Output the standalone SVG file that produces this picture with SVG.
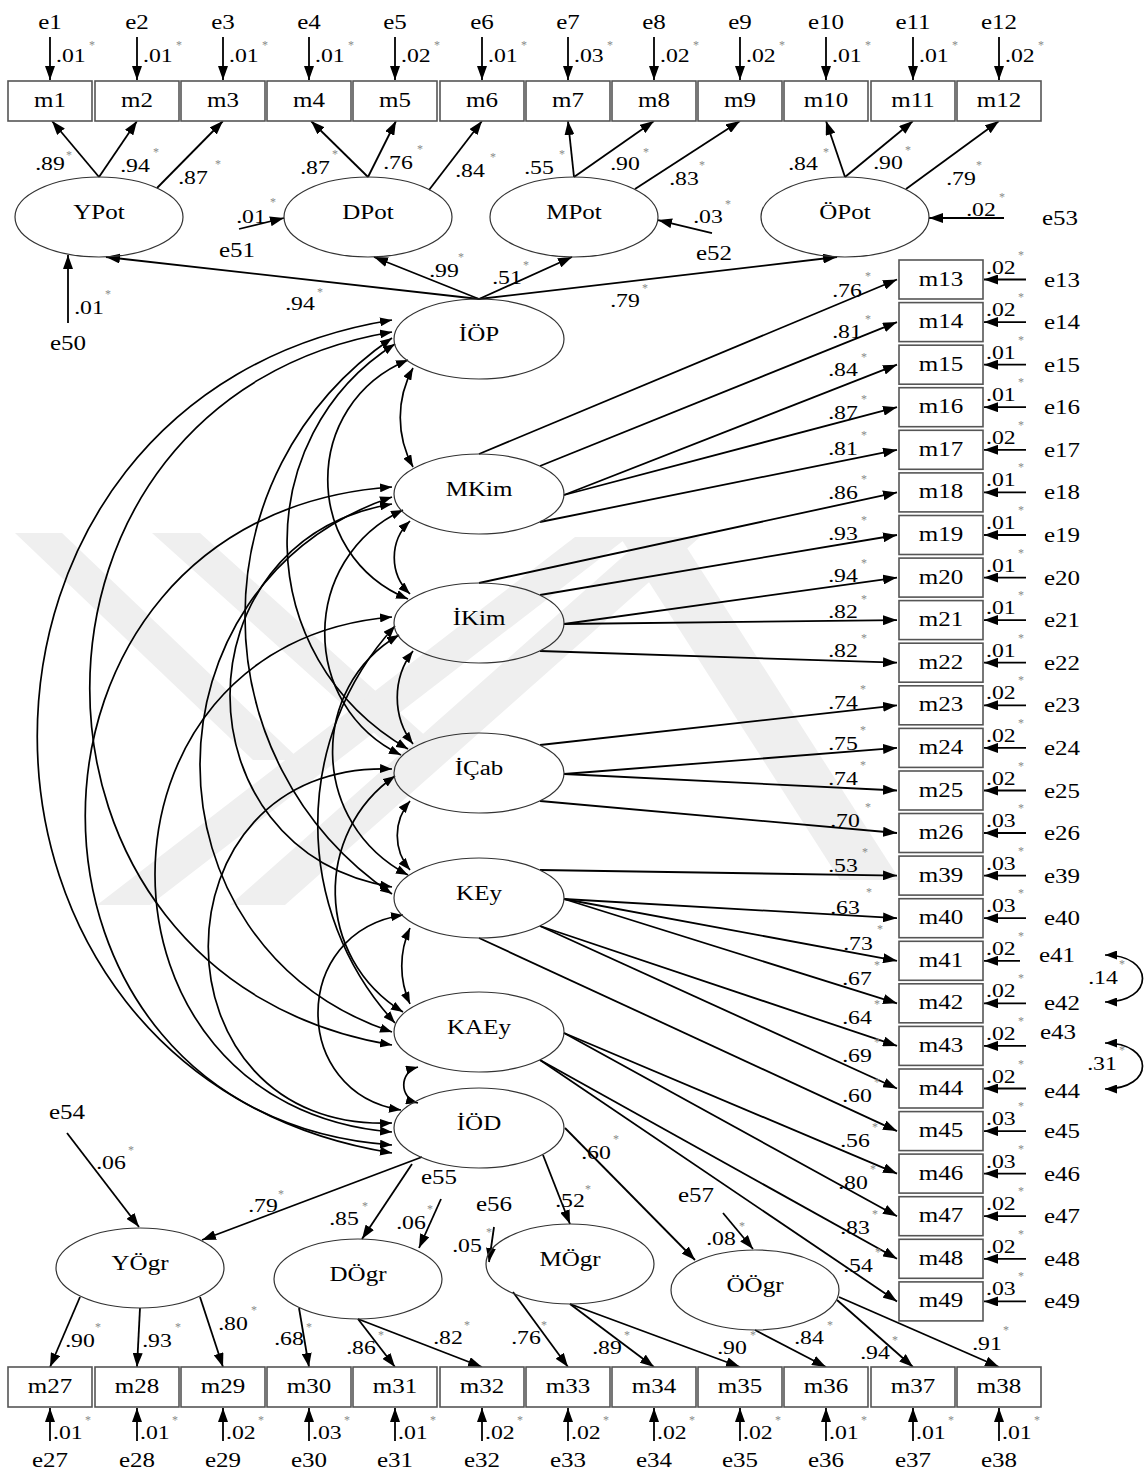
<svg xmlns="http://www.w3.org/2000/svg" width="1147" height="1472" viewBox="0 0 1147 1472">
<defs>
<marker id="ah" markerUnits="userSpaceOnUse" markerWidth="14" markerHeight="10" refX="14" refY="5" orient="auto"><path d="M0,0L14,5L0,10z" fill="#000"/></marker>
<marker id="ch" markerUnits="userSpaceOnUse" markerWidth="12" markerHeight="9" refX="12" refY="4.5" orient="auto-start-reverse"><path d="M0,0L12,4.5L0,9z" fill="#000"/></marker>
</defs>
<style>
text{font-family:"Liberation Serif","Times New Roman",serif;fill:#000}
.n{font-size:20px;text-anchor:middle}
.v{font-size:19px}
.vm{font-size:19px;text-anchor:middle}
.s{font-size:12px;fill:#8a8a8a;text-anchor:middle}
.bx{fill:#fff;stroke:#555;stroke-width:1.6}
.el{fill:none;stroke:#333;stroke-width:1.2}
.ln path{fill:none;stroke:#000;stroke-width:1.8;marker-end:url(#ah)}
.cv path{fill:none;stroke:#000;stroke-width:1.7;marker-start:url(#ch);marker-end:url(#ch)}
.wm{fill:#efefef}
</style>
<rect width="1147" height="1472" fill="#fff"/>
<g id="watermark">
<polygon class="wm" points="15,533 62,533 300,760 253,760"/>
<polygon class="wm" points="152,533 200,533 430,740 382,740"/>
<polygon class="wm" points="97,905 150,905 628,537 575,537"/>
<polygon class="wm" points="230,905 285,905 700,537 645,537"/>
<polygon class="wm" points="620,537 680,537 900,880 840,880"/>
</g>
<g id="connectors">
<g class="ln">
<path d="M50,37V80"/><path d="M137,37V80"/><path d="M223,37V80"/><path d="M309,37V80"/><path d="M395,37V80"/><path d="M482,37V80"/><path d="M568,37V80"/><path d="M654,37V80"/><path d="M740,37V80"/><path d="M826,37V80"/><path d="M913,37V80"/><path d="M999,37V80"/>
<path d="M99,177L52,121"/><path d="M99,177L137,121"/><path d="M157,188L223,121"/>
<path d="M368,177L311,121"/><path d="M368,177L396,121"/><path d="M429,190L482,121"/>
<path d="M574,177L568,121"/><path d="M574,177L654,121"/><path d="M635,189L740,121"/>
<path d="M845,177L826,121"/><path d="M845,177L913,121"/><path d="M906,189L999,121"/>
<path d="M479,299L106,257"/><path d="M479,299L374,257"/><path d="M479,299L572,257"/><path d="M479,299L837,257"/>
<path d="M68,323L68,255"/><path d="M239,229L284,218"/><path d="M712,233L658,220"/><path d="M1004,218L929,218"/>
<path d="M479,454L897,279.5"/><path d="M540,466L897,322.1"/><path d="M564,495L897,364.7"/><path d="M564,495L897,407.2"/><path d="M540,522L897,449.8"/>
<path d="M479,583L897,492.4"/><path d="M540,595L897,535"/><path d="M564,624L897,577.6"/><path d="M564,624L897,620.1"/><path d="M540,651L897,662.7"/>
<path d="M540,745L897,705.3"/><path d="M564,774L897,747.9"/><path d="M564,774L897,790.5"/><path d="M540,801L897,833"/>
<path d="M540,870L897,875.6"/><path d="M564,899L897,918.2"/><path d="M564,899L897,960.8"/><path d="M564,899L897,1003.3"/><path d="M540,926L897,1045.9"/><path d="M540,926L897,1088.5"/><path d="M479,938L897,1131.1"/>
<path d="M564,1033L897,1173.6"/><path d="M564,1033L897,1216.2"/><path d="M540,1060L897,1258.8"/><path d="M540,1060L897,1301.4"/>
<path d="M1026,279.5H984"/><path d="M1026,322.1H984"/><path d="M1026,364.7H984"/><path d="M1026,407.2H984"/><path d="M1026,449.8H984"/><path d="M1026,492.4H984"/><path d="M1026,535H984"/><path d="M1026,577.6H984"/><path d="M1026,620.1H984"/><path d="M1026,662.7H984"/><path d="M1026,705.3H984"/><path d="M1026,747.9H984"/><path d="M1026,790.5H984"/><path d="M1026,833H984"/><path d="M1026,875.6H984"/><path d="M1026,918.2H984"/><path d="M1020,960.8H984"/><path d="M1026,1003.3H984"/><path d="M1026,1045.9H984"/><path d="M1026,1088.5H984"/><path d="M1026,1131.1H984"/><path d="M1026,1173.6H984"/><path d="M1026,1216.2H984"/><path d="M1026,1258.8H984"/><path d="M1026,1301.4H984"/>
<path d="M67,1133L139,1227"/><path d="M422,1157L202,1240"/><path d="M412,1164L362,1239"/><path d="M441,1199L419,1248"/><path d="M494,1227L489,1262"/><path d="M543,1155L570,1224"/><path d="M565,1128L695,1260"/><path d="M723,1213L753,1249"/>
<path d="M80,1297L50,1367"/><path d="M140,1308L137,1367"/><path d="M200,1297L223,1367"/>
<path d="M299,1308L309,1367"/><path d="M358,1319L395,1367"/><path d="M358,1319L482,1367"/>
<path d="M513,1292L568,1367"/><path d="M570,1304L654,1367"/><path d="M570,1304L740,1367"/>
<path d="M755,1330L826,1367"/><path d="M837,1300L913,1367"/><path d="M839,1297L999,1367"/>
<path d="M50,1441V1408"/><path d="M137,1441V1408"/><path d="M223,1441V1408"/><path d="M309,1441V1408"/><path d="M395,1441V1408"/><path d="M482,1441V1408"/><path d="M568,1441V1408"/><path d="M654,1441V1408"/><path d="M740,1441V1408"/><path d="M826,1441V1408"/><path d="M913,1441V1408"/><path d="M999,1441V1408"/>
</g>
<g class="cv">
<path d="M392,320C-81,396 -81,1077 392,1153"/>
<path d="M392,332C-11,399 -11,978 392,1045"/>
<path d="M392,487C-17,515 -17,1117 392,1145"/>
<path d="M392,617C76,643 76,1106 392,1132"/>
<path d="M392,497C136,584 136,946 392,1032"/>
<path d="M392,338C196,472 196,761 392,894"/>
<path d="M392,769C147,760 147,1133 392,1123"/>
<path d="M395,344C249,436 249,657 408,749"/>
<path d="M392,504C176,540 176,851 392,887"/>
<path d="M395,626C292,738 292,911 395,1023"/>
<path d="M399,635C309,687 309,823 408,875"/>
<path d="M408,360C301,404 301,555 408,599"/>
<path d="M403,510C299,559 299,706 401,755"/>
<path d="M395,776C314,832 314,957 403,1012"/>
<path d="M403,915C290,932 290,1093 401,1110"/>
<path d="M413,368C396,399 396,436 413,467"/>
<path d="M410,521C389,541 389,574 410,594"/>
<path d="M413,651C392,678 392,717 413,744"/>
<path d="M410,801C393,821 393,850 410,870"/>
<path d="M410,928C399,952 399,980 410,1004"/>
<path d="M418,1067C399,1072 399,1098 418,1103"/>
<path d="M1105,955C1155,955 1155,1002 1105,1002"/>
<path d="M1105,1043C1155,1043 1155,1089 1105,1089"/>
</g>
</g>
<g id="YPot"><ellipse class="el" cx="99" cy="217" rx="84" ry="40"/><text class="n" transform="translate(99 219) scale(1.25 1)">YPot</text></g>
<g id="DPot"><ellipse class="el" cx="368" cy="217" rx="84" ry="40"/><text class="n" transform="translate(368 219) scale(1.25 1)">DPot</text></g>
<g id="MPot"><ellipse class="el" cx="574" cy="217" rx="84" ry="40"/><text class="n" transform="translate(574 219) scale(1.25 1)">MPot</text></g>
<g id="OPot"><ellipse class="el" cx="845" cy="217" rx="84" ry="40"/><text class="n" transform="translate(845 219) scale(1.25 1)">ÖPot</text></g>
<g id="IOP"><ellipse class="el" cx="479" cy="339" rx="85" ry="40"/><text class="n" transform="translate(479 341) scale(1.25 1)">İÖP</text></g>
<g id="MKim"><ellipse class="el" cx="479" cy="494" rx="85" ry="40"/><text class="n" transform="translate(479 496) scale(1.25 1)">MKim</text></g>
<g id="IKim"><ellipse class="el" cx="479" cy="623" rx="85" ry="40"/><text class="n" transform="translate(479 625) scale(1.25 1)">İKim</text></g>
<g id="ICab"><ellipse class="el" cx="479" cy="773" rx="85" ry="40"/><text class="n" transform="translate(479 775) scale(1.25 1)">İÇab</text></g>
<g id="KEy"><ellipse class="el" cx="479" cy="898" rx="85" ry="40"/><text class="n" transform="translate(479 900) scale(1.25 1)">KEy</text></g>
<g id="KAEy"><ellipse class="el" cx="479" cy="1032" rx="85" ry="40"/><text class="n" transform="translate(479 1034) scale(1.25 1)">KAEy</text></g>
<g id="IOD"><ellipse class="el" cx="479" cy="1128" rx="85" ry="40"/><text class="n" transform="translate(479 1130) scale(1.25 1)">İÖD</text></g>
<g id="YOgr"><ellipse class="el" cx="140" cy="1268" rx="84" ry="40"/><text class="n" transform="translate(140 1270) scale(1.25 1)">YÖgr</text></g>
<g id="DOgr"><ellipse class="el" cx="358" cy="1279" rx="84" ry="40"/><text class="n" transform="translate(358 1281) scale(1.25 1)">DÖgr</text></g>
<g id="MOgr"><ellipse class="el" cx="570" cy="1264" rx="84" ry="40"/><text class="n" transform="translate(570 1266) scale(1.25 1)">MÖgr</text></g>
<g id="OOgr"><ellipse class="el" cx="755" cy="1290" rx="84" ry="40"/><text class="n" transform="translate(755 1292) scale(1.25 1)">ÖÖgr</text></g>
<g id="m1"><rect class="bx" x="8" y="81" width="84" height="40"/><text class="n" transform="translate(50 107) scale(1.25 1)">m1</text></g>
<g id="m2"><rect class="bx" x="95" y="81" width="84" height="40"/><text class="n" transform="translate(137 107) scale(1.25 1)">m2</text></g>
<g id="m3"><rect class="bx" x="181" y="81" width="84" height="40"/><text class="n" transform="translate(223 107) scale(1.25 1)">m3</text></g>
<g id="m4"><rect class="bx" x="267" y="81" width="84" height="40"/><text class="n" transform="translate(309 107) scale(1.25 1)">m4</text></g>
<g id="m5"><rect class="bx" x="353" y="81" width="84" height="40"/><text class="n" transform="translate(395 107) scale(1.25 1)">m5</text></g>
<g id="m6"><rect class="bx" x="440" y="81" width="84" height="40"/><text class="n" transform="translate(482 107) scale(1.25 1)">m6</text></g>
<g id="m7"><rect class="bx" x="526" y="81" width="84" height="40"/><text class="n" transform="translate(568 107) scale(1.25 1)">m7</text></g>
<g id="m8"><rect class="bx" x="612" y="81" width="84" height="40"/><text class="n" transform="translate(654 107) scale(1.25 1)">m8</text></g>
<g id="m9"><rect class="bx" x="698" y="81" width="84" height="40"/><text class="n" transform="translate(740 107) scale(1.25 1)">m9</text></g>
<g id="m10"><rect class="bx" x="784" y="81" width="84" height="40"/><text class="n" transform="translate(826 107) scale(1.25 1)">m10</text></g>
<g id="m11"><rect class="bx" x="871" y="81" width="84" height="40"/><text class="n" transform="translate(913 107) scale(1.25 1)">m11</text></g>
<g id="m12"><rect class="bx" x="957" y="81" width="84" height="40"/><text class="n" transform="translate(999 107) scale(1.25 1)">m12</text></g>
<g id="m27"><rect class="bx" x="8" y="1367" width="84" height="40"/><text class="n" transform="translate(50 1393) scale(1.25 1)">m27</text></g>
<g id="m28"><rect class="bx" x="95" y="1367" width="84" height="40"/><text class="n" transform="translate(137 1393) scale(1.25 1)">m28</text></g>
<g id="m29"><rect class="bx" x="181" y="1367" width="84" height="40"/><text class="n" transform="translate(223 1393) scale(1.25 1)">m29</text></g>
<g id="m30"><rect class="bx" x="267" y="1367" width="84" height="40"/><text class="n" transform="translate(309 1393) scale(1.25 1)">m30</text></g>
<g id="m31"><rect class="bx" x="353" y="1367" width="84" height="40"/><text class="n" transform="translate(395 1393) scale(1.25 1)">m31</text></g>
<g id="m32"><rect class="bx" x="440" y="1367" width="84" height="40"/><text class="n" transform="translate(482 1393) scale(1.25 1)">m32</text></g>
<g id="m33"><rect class="bx" x="526" y="1367" width="84" height="40"/><text class="n" transform="translate(568 1393) scale(1.25 1)">m33</text></g>
<g id="m34"><rect class="bx" x="612" y="1367" width="84" height="40"/><text class="n" transform="translate(654 1393) scale(1.25 1)">m34</text></g>
<g id="m35"><rect class="bx" x="698" y="1367" width="84" height="40"/><text class="n" transform="translate(740 1393) scale(1.25 1)">m35</text></g>
<g id="m36"><rect class="bx" x="784" y="1367" width="84" height="40"/><text class="n" transform="translate(826 1393) scale(1.25 1)">m36</text></g>
<g id="m37"><rect class="bx" x="871" y="1367" width="84" height="40"/><text class="n" transform="translate(913 1393) scale(1.25 1)">m37</text></g>
<g id="m38"><rect class="bx" x="957" y="1367" width="84" height="40"/><text class="n" transform="translate(999 1393) scale(1.25 1)">m38</text></g>
<g id="m13"><rect class="bx" x="899" y="260" width="84" height="39"/><text class="n" transform="translate(941 285.5) scale(1.25 1)">m13</text></g>
<g id="m14"><rect class="bx" x="899" y="302.6" width="84" height="39"/><text class="n" transform="translate(941 328) scale(1.25 1)">m14</text></g>
<g id="m15"><rect class="bx" x="899" y="345.2" width="84" height="39"/><text class="n" transform="translate(941 370.7) scale(1.25 1)">m15</text></g>
<g id="m16"><rect class="bx" x="899" y="387.7" width="84" height="39"/><text class="n" transform="translate(941 413) scale(1.25 1)">m16</text></g>
<g id="m17"><rect class="bx" x="899" y="430.3" width="84" height="39"/><text class="n" transform="translate(941 455.8) scale(1.25 1)">m17</text></g>
<g id="m18"><rect class="bx" x="899" y="472.9" width="84" height="39"/><text class="n" transform="translate(941 498.4) scale(1.25 1)">m18</text></g>
<g id="m19"><rect class="bx" x="899" y="515.5" width="84" height="39"/><text class="n" transform="translate(941 541) scale(1.25 1)">m19</text></g>
<g id="m20"><rect class="bx" x="899" y="558.1" width="84" height="39"/><text class="n" transform="translate(941 583.6) scale(1.25 1)">m20</text></g>
<g id="m21"><rect class="bx" x="899" y="600.6" width="84" height="39"/><text class="n" transform="translate(941 626) scale(1.25 1)">m21</text></g>
<g id="m22"><rect class="bx" x="899" y="643.2" width="84" height="39"/><text class="n" transform="translate(941 668.7) scale(1.25 1)">m22</text></g>
<g id="m23"><rect class="bx" x="899" y="685.8" width="84" height="39"/><text class="n" transform="translate(941 711.3) scale(1.25 1)">m23</text></g>
<g id="m24"><rect class="bx" x="899" y="728.4" width="84" height="39"/><text class="n" transform="translate(941 753.9) scale(1.25 1)">m24</text></g>
<g id="m25"><rect class="bx" x="899" y="771" width="84" height="39"/><text class="n" transform="translate(941 796.5) scale(1.25 1)">m25</text></g>
<g id="m26"><rect class="bx" x="899" y="813.5" width="84" height="39"/><text class="n" transform="translate(941 839) scale(1.25 1)">m26</text></g>
<g id="m39"><rect class="bx" x="899" y="856.1" width="84" height="39"/><text class="n" transform="translate(941 881.6) scale(1.25 1)">m39</text></g>
<g id="m40"><rect class="bx" x="899" y="898.7" width="84" height="39"/><text class="n" transform="translate(941 924.2) scale(1.25 1)">m40</text></g>
<g id="m41"><rect class="bx" x="899" y="941.3" width="84" height="39"/><text class="n" transform="translate(941 966.8) scale(1.25 1)">m41</text></g>
<g id="m42"><rect class="bx" x="899" y="983.8" width="84" height="39"/><text class="n" transform="translate(941 1009.3) scale(1.25 1)">m42</text></g>
<g id="m43"><rect class="bx" x="899" y="1026.4" width="84" height="39"/><text class="n" transform="translate(941 1051.9) scale(1.25 1)">m43</text></g>
<g id="m44"><rect class="bx" x="899" y="1069" width="84" height="39"/><text class="n" transform="translate(941 1094.5) scale(1.25 1)">m44</text></g>
<g id="m45"><rect class="bx" x="899" y="1111.6" width="84" height="39"/><text class="n" transform="translate(941 1137.1) scale(1.25 1)">m45</text></g>
<g id="m46"><rect class="bx" x="899" y="1154.1" width="84" height="39"/><text class="n" transform="translate(941 1179.6) scale(1.25 1)">m46</text></g>
<g id="m47"><rect class="bx" x="899" y="1196.7" width="84" height="39"/><text class="n" transform="translate(941 1222.2) scale(1.25 1)">m47</text></g>
<g id="m48"><rect class="bx" x="899" y="1239.3" width="84" height="39"/><text class="n" transform="translate(941 1264.8) scale(1.25 1)">m48</text></g>
<g id="m49"><rect class="bx" x="899" y="1281.9" width="84" height="39"/><text class="n" transform="translate(941 1307.4) scale(1.25 1)">m49</text></g>
<g id="errors">
<text class="n" transform="translate(50 29) scale(1.25 1)">e1</text><text class="n" transform="translate(137 29) scale(1.25 1)">e2</text><text class="n" transform="translate(223 29) scale(1.25 1)">e3</text><text class="n" transform="translate(309 29) scale(1.25 1)">e4</text><text class="n" transform="translate(395 29) scale(1.25 1)">e5</text><text class="n" transform="translate(482 29) scale(1.25 1)">e6</text><text class="n" transform="translate(568 29) scale(1.25 1)">e7</text><text class="n" transform="translate(654 29) scale(1.25 1)">e8</text><text class="n" transform="translate(740 29) scale(1.25 1)">e9</text><text class="n" transform="translate(826 29) scale(1.25 1)">e10</text><text class="n" transform="translate(913 29) scale(1.25 1)">e11</text><text class="n" transform="translate(999 29) scale(1.25 1)">e12</text>
<text class="n" transform="translate(50 1467) scale(1.25 1)">e27</text><text class="n" transform="translate(137 1467) scale(1.25 1)">e28</text><text class="n" transform="translate(223 1467) scale(1.25 1)">e29</text><text class="n" transform="translate(309 1467) scale(1.25 1)">e30</text><text class="n" transform="translate(395 1467) scale(1.25 1)">e31</text><text class="n" transform="translate(482 1467) scale(1.25 1)">e32</text><text class="n" transform="translate(568 1467) scale(1.25 1)">e33</text><text class="n" transform="translate(654 1467) scale(1.25 1)">e34</text><text class="n" transform="translate(740 1467) scale(1.25 1)">e35</text><text class="n" transform="translate(826 1467) scale(1.25 1)">e36</text><text class="n" transform="translate(913 1467) scale(1.25 1)">e37</text><text class="n" transform="translate(999 1467) scale(1.25 1)">e38</text>
<text class="n" transform="translate(1062 286.5) scale(1.25 1)">e13</text><text class="n" transform="translate(1062 329) scale(1.25 1)">e14</text><text class="n" transform="translate(1062 371.7) scale(1.25 1)">e15</text><text class="n" transform="translate(1062 414) scale(1.25 1)">e16</text><text class="n" transform="translate(1062 456.8) scale(1.25 1)">e17</text><text class="n" transform="translate(1062 499.4) scale(1.25 1)">e18</text><text class="n" transform="translate(1062 542) scale(1.25 1)">e19</text><text class="n" transform="translate(1062 584.6) scale(1.25 1)">e20</text><text class="n" transform="translate(1062 627) scale(1.25 1)">e21</text><text class="n" transform="translate(1062 669.7) scale(1.25 1)">e22</text><text class="n" transform="translate(1062 712.3) scale(1.25 1)">e23</text><text class="n" transform="translate(1062 754.9) scale(1.25 1)">e24</text><text class="n" transform="translate(1062 797.5) scale(1.25 1)">e25</text><text class="n" transform="translate(1062 840) scale(1.25 1)">e26</text><text class="n" transform="translate(1062 882.6) scale(1.25 1)">e39</text><text class="n" transform="translate(1062 925.2) scale(1.25 1)">e40</text><text class="n" transform="translate(1057 962) scale(1.25 1)">e41</text><text class="n" transform="translate(1062 1010.3) scale(1.25 1)">e42</text><text class="n" transform="translate(1058 1039) scale(1.25 1)">e43</text><text class="n" transform="translate(1062 1098) scale(1.25 1)">e44</text><text class="n" transform="translate(1062 1138.1) scale(1.25 1)">e45</text><text class="n" transform="translate(1062 1180.6) scale(1.25 1)">e46</text><text class="n" transform="translate(1062 1223.2) scale(1.25 1)">e47</text><text class="n" transform="translate(1062 1265.8) scale(1.25 1)">e48</text><text class="n" transform="translate(1062 1308.4) scale(1.25 1)">e49</text>
<text class="n" transform="translate(68 350) scale(1.25 1)">e50</text><text class="n" transform="translate(237 257) scale(1.25 1)">e51</text><text class="n" transform="translate(714 260) scale(1.25 1)">e52</text><text class="n" transform="translate(1060 225) scale(1.25 1)">e53</text>
<text class="n" transform="translate(67 1119) scale(1.25 1)">e54</text><text class="n" transform="translate(439 1184) scale(1.25 1)">e55</text><text class="n" transform="translate(494 1211) scale(1.25 1)">e56</text><text class="n" transform="translate(696 1202) scale(1.25 1)">e57</text>
</g>
<g id="labels">
<text class="v" transform="translate(56 62) scale(1.25 1)">.01</text><text class="v" transform="translate(143 62) scale(1.25 1)">.01</text><text class="v" transform="translate(229 62) scale(1.25 1)">.01</text><text class="v" transform="translate(315 62) scale(1.25 1)">.01</text><text class="v" transform="translate(401 62) scale(1.25 1)">.02</text><text class="v" transform="translate(488 62) scale(1.25 1)">.01</text><text class="v" transform="translate(574 62) scale(1.25 1)">.03</text><text class="v" transform="translate(660 62) scale(1.25 1)">.02</text><text class="v" transform="translate(746 62) scale(1.25 1)">.02</text><text class="v" transform="translate(832 62) scale(1.25 1)">.01</text><text class="v" transform="translate(919 62) scale(1.25 1)">.01</text><text class="v" transform="translate(1005 62) scale(1.25 1)">.02</text>
<text class="s" x="92" y="49">*</text><text class="s" x="179" y="49">*</text><text class="s" x="265" y="49">*</text><text class="s" x="351" y="49">*</text><text class="s" x="437" y="49">*</text><text class="s" x="524" y="49">*</text><text class="s" x="610" y="49">*</text><text class="s" x="696" y="49">*</text><text class="s" x="782" y="49">*</text><text class="s" x="868" y="49">*</text><text class="s" x="955" y="49">*</text><text class="s" x="1041" y="49">*</text>
<text class="v" transform="translate(53 1439) scale(1.25 1)">.01</text><text class="v" transform="translate(140 1439) scale(1.25 1)">.01</text><text class="v" transform="translate(226 1439) scale(1.25 1)">.02</text><text class="v" transform="translate(312 1439) scale(1.25 1)">.03</text><text class="v" transform="translate(398 1439) scale(1.25 1)">.01</text><text class="v" transform="translate(485 1439) scale(1.25 1)">.02</text><text class="v" transform="translate(571 1439) scale(1.25 1)">.02</text><text class="v" transform="translate(657 1439) scale(1.25 1)">.02</text><text class="v" transform="translate(743 1439) scale(1.25 1)">.02</text><text class="v" transform="translate(829 1439) scale(1.25 1)">.01</text><text class="v" transform="translate(916 1439) scale(1.25 1)">.01</text><text class="v" transform="translate(1002 1439) scale(1.25 1)">.01</text>
<text class="s" x="88" y="1424">*</text><text class="s" x="175" y="1424">*</text><text class="s" x="261" y="1424">*</text><text class="s" x="347" y="1424">*</text><text class="s" x="433" y="1424">*</text><text class="s" x="520" y="1424">*</text><text class="s" x="606" y="1424">*</text><text class="s" x="692" y="1424">*</text><text class="s" x="778" y="1424">*</text><text class="s" x="864" y="1424">*</text><text class="s" x="951" y="1424">*</text><text class="s" x="1037" y="1424">*</text>
<text class="v" transform="translate(986 273.5) scale(1.25 1)">.02</text><text class="v" transform="translate(986 316) scale(1.25 1)">.02</text><text class="v" transform="translate(986 358.7) scale(1.25 1)">.01</text><text class="v" transform="translate(986 401) scale(1.25 1)">.01</text><text class="v" transform="translate(986 443.8) scale(1.25 1)">.02</text><text class="v" transform="translate(986 486.4) scale(1.25 1)">.01</text><text class="v" transform="translate(986 529) scale(1.25 1)">.01</text><text class="v" transform="translate(986 571.6) scale(1.25 1)">.01</text><text class="v" transform="translate(986 614) scale(1.25 1)">.01</text><text class="v" transform="translate(986 656.7) scale(1.25 1)">.01</text><text class="v" transform="translate(986 699.3) scale(1.25 1)">.02</text><text class="v" transform="translate(986 741.9) scale(1.25 1)">.02</text><text class="v" transform="translate(986 784.5) scale(1.25 1)">.02</text><text class="v" transform="translate(986 827) scale(1.25 1)">.03</text><text class="v" transform="translate(986 869.6) scale(1.25 1)">.03</text><text class="v" transform="translate(986 912.2) scale(1.25 1)">.03</text><text class="v" transform="translate(986 954.8) scale(1.25 1)">.02</text><text class="v" transform="translate(986 997.3) scale(1.25 1)">.02</text><text class="v" transform="translate(986 1039.9) scale(1.25 1)">.02</text><text class="v" transform="translate(986 1082.5) scale(1.25 1)">.02</text><text class="v" transform="translate(986 1125.1) scale(1.25 1)">.03</text><text class="v" transform="translate(986 1167.6) scale(1.25 1)">.03</text><text class="v" transform="translate(986 1210.2) scale(1.25 1)">.02</text><text class="v" transform="translate(986 1252.8) scale(1.25 1)">.02</text><text class="v" transform="translate(986 1295.4) scale(1.25 1)">.03</text>
<text class="s" x="1021" y="258.5">*</text><text class="s" x="1021" y="301">*</text><text class="s" x="1021" y="343.7">*</text><text class="s" x="1021" y="386">*</text><text class="s" x="1021" y="428.8">*</text><text class="s" x="1021" y="471.4">*</text><text class="s" x="1021" y="514">*</text><text class="s" x="1021" y="556.6">*</text><text class="s" x="1021" y="599">*</text><text class="s" x="1021" y="641.7">*</text><text class="s" x="1021" y="684.3">*</text><text class="s" x="1021" y="726.9">*</text><text class="s" x="1021" y="769.5">*</text><text class="s" x="1021" y="812">*</text><text class="s" x="1021" y="854.6">*</text><text class="s" x="1021" y="897.2">*</text><text class="s" x="1021" y="939.8">*</text><text class="s" x="1021" y="982.3">*</text><text class="s" x="1021" y="1024.9">*</text><text class="s" x="1021" y="1067.5">*</text><text class="s" x="1021" y="1110.1">*</text><text class="s" x="1021" y="1152.6">*</text><text class="s" x="1021" y="1195.2">*</text><text class="s" x="1021" y="1237.8">*</text><text class="s" x="1021" y="1280.4">*</text>
<text class="vm" transform="translate(847 297) scale(1.25 1)">.76</text><text class="vm" transform="translate(847 338) scale(1.25 1)">.81</text><text class="vm" transform="translate(843 376) scale(1.25 1)">.84</text><text class="vm" transform="translate(843 419) scale(1.25 1)">.87</text><text class="vm" transform="translate(843 455) scale(1.25 1)">.81</text><text class="vm" transform="translate(843 499) scale(1.25 1)">.86</text><text class="vm" transform="translate(843 540) scale(1.25 1)">.93</text><text class="vm" transform="translate(843 582) scale(1.25 1)">.94</text><text class="vm" transform="translate(843 618) scale(1.25 1)">.82</text><text class="vm" transform="translate(843 657) scale(1.25 1)">.82</text><text class="vm" transform="translate(843 709) scale(1.25 1)">.74</text><text class="vm" transform="translate(843 750) scale(1.25 1)">.75</text><text class="vm" transform="translate(843 785) scale(1.25 1)">.74</text><text class="vm" transform="translate(845 827) scale(1.25 1)">.70</text><text class="vm" transform="translate(843 872) scale(1.25 1)">.53</text><text class="vm" transform="translate(845 914) scale(1.25 1)">.63</text><text class="vm" transform="translate(858 950) scale(1.25 1)">.73</text><text class="vm" transform="translate(857 985) scale(1.25 1)">.67</text><text class="vm" transform="translate(857 1024) scale(1.25 1)">.64</text><text class="vm" transform="translate(857 1062) scale(1.25 1)">.69</text><text class="vm" transform="translate(857 1102) scale(1.25 1)">.60</text><text class="vm" transform="translate(855 1147) scale(1.25 1)">.56</text><text class="vm" transform="translate(853 1189) scale(1.25 1)">.80</text><text class="vm" transform="translate(855 1234) scale(1.25 1)">.83</text><text class="vm" transform="translate(858 1272) scale(1.25 1)">.54</text>
<text class="s" x="868" y="280">*</text><text class="s" x="868" y="323">*</text><text class="s" x="864" y="361">*</text><text class="s" x="864" y="403">*</text><text class="s" x="864" y="439">*</text><text class="s" x="864" y="483">*</text><text class="s" x="864" y="524">*</text><text class="s" x="864" y="567">*</text><text class="s" x="864" y="603">*</text><text class="s" x="864" y="642">*</text><text class="s" x="863" y="693">*</text><text class="s" x="863" y="734">*</text><text class="s" x="863" y="769">*</text><text class="s" x="868" y="811">*</text><text class="s" x="865" y="856">*</text><text class="s" x="869" y="896">*</text><text class="s" x="880" y="933">*</text><text class="s" x="877" y="969">*</text><text class="s" x="877" y="1008">*</text><text class="s" x="877" y="1046">*</text><text class="s" x="877" y="1086">*</text><text class="s" x="875" y="1131">*</text><text class="s" x="873" y="1173">*</text><text class="s" x="875" y="1218">*</text><text class="s" x="878" y="1256">*</text>
<text class="vm" transform="translate(50 170) scale(1.25 1)">.89</text><text class="vm" transform="translate(135 172) scale(1.25 1)">.94</text><text class="vm" transform="translate(193 184) scale(1.25 1)">.87</text><text class="vm" transform="translate(315 174) scale(1.25 1)">.87</text><text class="vm" transform="translate(398 169) scale(1.25 1)">.76</text><text class="vm" transform="translate(470 177) scale(1.25 1)">.84</text><text class="vm" transform="translate(539 174) scale(1.25 1)">.55</text><text class="vm" transform="translate(625 170) scale(1.25 1)">.90</text><text class="vm" transform="translate(684 185) scale(1.25 1)">.83</text><text class="vm" transform="translate(803 170) scale(1.25 1)">.84</text><text class="vm" transform="translate(888 169) scale(1.25 1)">.90</text><text class="vm" transform="translate(961 185) scale(1.25 1)">.79</text>
<text class="s" x="69" y="159">*</text><text class="s" x="156" y="156">*</text><text class="s" x="218" y="168">*</text><text class="s" x="335" y="158">*</text><text class="s" x="420" y="153">*</text><text class="s" x="493" y="161">*</text><text class="s" x="562" y="158">*</text><text class="s" x="646" y="156">*</text><text class="s" x="702" y="169">*</text><text class="s" x="826" y="156">*</text><text class="s" x="908" y="154">*</text><text class="s" x="979" y="169">*</text>
<text class="vm" transform="translate(251 223) scale(1.25 1)">.01</text><text class="s" x="273" y="206">*</text>
<text class="vm" transform="translate(708 223) scale(1.25 1)">.03</text><text class="s" x="728" y="208">*</text>
<text class="vm" transform="translate(981 216) scale(1.25 1)">.02</text><text class="s" x="1002" y="201">*</text>
<text class="vm" transform="translate(89 314) scale(1.25 1)">.01</text><text class="s" x="108" y="298">*</text>
<text class="vm" transform="translate(300 310) scale(1.25 1)">.94</text><text class="s" x="320" y="296">*</text>
<text class="vm" transform="translate(444 277) scale(1.25 1)">.99</text><text class="s" x="461" y="261">*</text>
<text class="vm" transform="translate(507 284) scale(1.25 1)">.51</text><text class="s" x="526" y="269">*</text>
<text class="vm" transform="translate(625 307) scale(1.25 1)">.79</text><text class="s" x="645" y="292">*</text>
<text class="vm" transform="translate(111 1169) scale(1.25 1)">.06</text><text class="s" x="131" y="1154">*</text>
<text class="vm" transform="translate(263 1212) scale(1.25 1)">.79</text><text class="s" x="281" y="1198">*</text>
<text class="vm" transform="translate(344 1225) scale(1.25 1)">.85</text><text class="s" x="365" y="1210">*</text>
<text class="vm" transform="translate(411 1229) scale(1.25 1)">.06</text><text class="s" x="430" y="1213">*</text>
<text class="vm" transform="translate(467 1252) scale(1.25 1)">.05</text><text class="s" x="489" y="1236">*</text>
<text class="vm" transform="translate(570 1207) scale(1.25 1)">.52</text><text class="s" x="588" y="1193">*</text>
<text class="vm" transform="translate(596 1159) scale(1.25 1)">.60</text><text class="s" x="616" y="1143">*</text>
<text class="vm" transform="translate(721 1245) scale(1.25 1)">.08</text><text class="s" x="742" y="1230">*</text>
<text class="vm" transform="translate(80 1347) scale(1.25 1)">.90</text><text class="s" x="98" y="1331">*</text>
<text class="vm" transform="translate(157 1347) scale(1.25 1)">.93</text><text class="s" x="178" y="1331">*</text>
<text class="vm" transform="translate(233 1330) scale(1.25 1)">.80</text><text class="s" x="254" y="1314">*</text>
<text class="vm" transform="translate(289 1345) scale(1.25 1)">.68</text><text class="s" x="309" y="1331">*</text>
<text class="vm" transform="translate(361 1354) scale(1.25 1)">.86</text><text class="s" x="381" y="1339">*</text>
<text class="vm" transform="translate(448 1344) scale(1.25 1)">.82</text><text class="s" x="467" y="1329">*</text>
<text class="vm" transform="translate(526 1344) scale(1.25 1)">.76</text><text class="s" x="544" y="1329">*</text>
<text class="vm" transform="translate(607 1354) scale(1.25 1)">.89</text><text class="s" x="627" y="1339">*</text>
<text class="vm" transform="translate(732 1354) scale(1.25 1)">.90</text><text class="s" x="753" y="1339">*</text>
<text class="vm" transform="translate(809 1344) scale(1.25 1)">.84</text><text class="s" x="830" y="1329">*</text>
<text class="vm" transform="translate(875 1359) scale(1.25 1)">.94</text><text class="s" x="895" y="1344">*</text>
<text class="vm" transform="translate(987 1350) scale(1.25 1)">.91</text><text class="s" x="1006" y="1334">*</text>
<text class="vm" transform="translate(1103 984) scale(1.25 1)">.14</text><text class="s" x="1122" y="968">*</text>
<text class="vm" transform="translate(1102 1070) scale(1.25 1)">.31</text><text class="s" x="1122" y="1054">*</text>
</g>
</svg>
